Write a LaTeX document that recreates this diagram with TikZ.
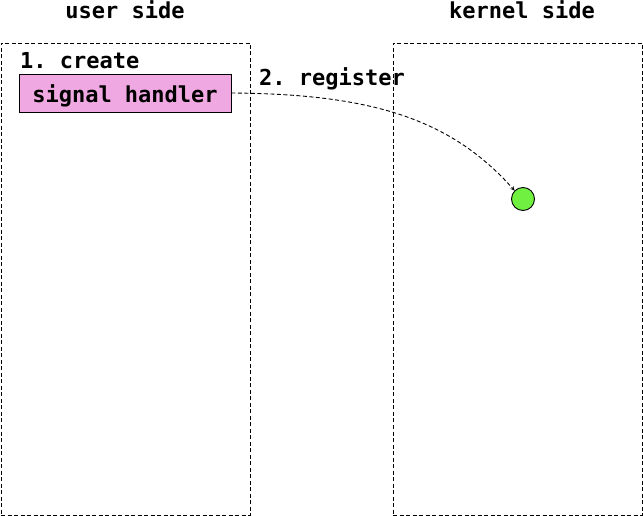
\documentclass[tikz,border=0pt]{standalone}
\usepackage{fontspec}
\setmonofont{DejaVu Sans Mono}
\begin{document}
\begin{tikzpicture}[x=1pt,y=-1pt,
  lbl/.style={font=\ttfamily\bfseries\fontsize{22}{25}\selectfont, inner sep=0pt},
  dsh/.style={dash pattern=on 4pt off 2.5pt},
  side/.style={draw, dsh, line width=0.9pt},
  handlerbox/.style={draw, line width=0.9pt, fill={rgb,255:red,240;green,168;blue,226}, minimum width=212pt, minimum height=38pt, inner sep=0pt},
  dot/.style={circle, draw, line width=0.9pt, fill={rgb,255:red,112;green,240;blue,64}, minimum size=23pt, inner sep=0pt}
]
\useasboundingbox (0,0) rectangle (643,516);
\node[side, minimum width=249pt, minimum height=472pt, inner sep=0pt] (user) at (125.5,279) {};
\node[side, minimum width=249pt, minimum height=472pt, inner sep=0pt] (kernel) at (517.5,279) {};
\node[lbl] (ut) at (125,10) {user side};
\node[lbl] (kt) at (522,10) {kernel side};
\node[lbl, anchor=base west] (create) at (20,69) {1. create};
\node[handlerbox] (sh) at (125,93) {};
\node[lbl, anchor=base] (shl) at (125,103) {signal handler};
\node[lbl, anchor=base west] (reg) at (259,86) {2. register};
\node[dot] (g) at (523,199) {};
\draw[dsh, line width=0.9pt, -stealth] (sh.east) .. controls (370,94) and (450,118) .. (g.north west);
\end{tikzpicture}
\end{document}
